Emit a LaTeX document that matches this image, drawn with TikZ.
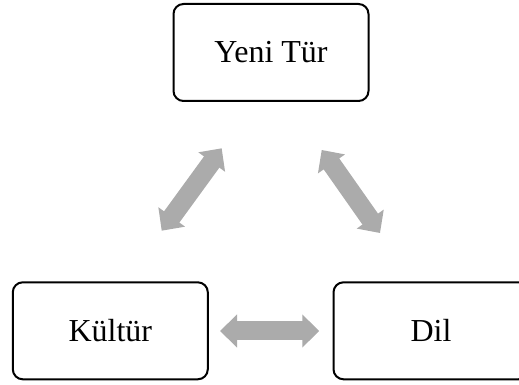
\documentclass[tikz,border=0pt]{standalone}
\usepackage{fontspec}
\setmainfont{Liberation Serif}
\usetikzlibrary{arrows.meta}
\definecolor{arrowgray}{RGB}{171,171,171}
\tikzset{
  box/.style={draw=black, line width=2pt, rounded corners=10pt, minimum width=195pt, minimum height=97pt, inner sep=0pt, font=\fontsize{32}{36}\selectfont},
  bigarrow/.style={draw=arrowgray, line width=19pt, {Triangle[width=32pt,length=17pt]}-{Triangle[width=32pt,length=17pt]}, arrowgray}
}
\begin{document}
\begin{tikzpicture}[x=1pt,y=1pt]
\useasboundingbox (0,0) rectangle (519,385);
\clip (0,0) rectangle (519,385);
\node[box] (yeni) at (271,332.5) {Yeni Tür};
\node[box] (kultur) at (110.3,54.2) {Kültür};
\node[box] (dil) at (431,54.2) {Dil};
\coordinate (l1) at (161.7,154.3);
\coordinate (l2) at (221.7,236.7);
\coordinate (r1) at (321.7,235);
\coordinate (r2) at (380,152);
\coordinate (b1) at (220,54);
\coordinate (b2) at (319.3,54);
\draw[bigarrow] (l1) -- (l2);
\draw[bigarrow] (r1) -- (r2);
\draw[bigarrow] (b1) -- (b2);
\end{tikzpicture}
\end{document}
